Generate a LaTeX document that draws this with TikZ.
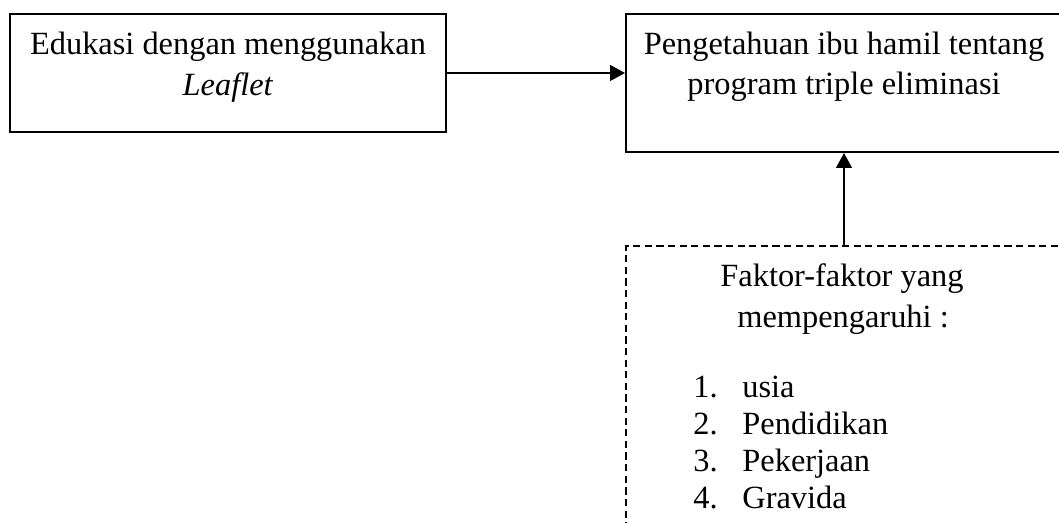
\documentclass[tikz,border=0pt]{standalone}
\usepackage{fontspec}
\setmainfont{Liberation Serif}
\usetikzlibrary{arrows.meta,positioning}

\begin{document}
\begin{tikzpicture}[x=0.5pt,y=-0.5pt,
    font=\fontsize{16.2pt}{20pt}\selectfont,
    kotak/.style={draw,line width=1pt,minimum width=218pt,inner sep=0pt},
    teks/.style={anchor=base,inner sep=0pt},
    panah/.style={-{Triangle[length=7.5pt,width=8pt]},line width=0.7pt}]
  \useasboundingbox (0,0) rectangle (1059,523);
  % kotak
  \node[kotak,minimum height=59pt] (edukasi) at (228,73) {};
  \node[kotak,minimum height=69pt] (pengetahuan) at (844,83) {};
  \node[kotak,dash pattern=on 3.6pt off 2.2pt,line width=1pt,minimum height=157pt] (faktor) at (844,403.5) {};
  % teks
  \node[teks] (edu1) at (228,55) {Edukasi dengan menggunakan};
  \node[teks] (edu2) at (228,96) {\textit{Leaflet}};
  \node[teks] (tahu1) at (844,55) {Pengetahuan ibu hamil tentang};
  \node[teks] (tahu2) at (844,95) {program triple eliminasi};
  \node[teks] (fak1) at (842,287) {Faktor-faktor yang};
  \node[teks] (fak2) at (843,328) {mempengaruhi :};
  \foreach \n/\isi/\y in {1/usia/397,2/Pendidikan/434,3/Pekerjaan/471,4/Gravida/508}{
    \node[teks,anchor=base west] (no\n) at (693,\y) {\n.};
    \node[teks,anchor=base west] (isi\n) at (742,\y) {\isi};
  }
  % panah
  \draw[panah] (edukasi.east) -- (edukasi.east -| pengetahuan.west);
  \draw[panah] (faktor.north) -- (pengetahuan.south);
\end{tikzpicture}
\end{document}
